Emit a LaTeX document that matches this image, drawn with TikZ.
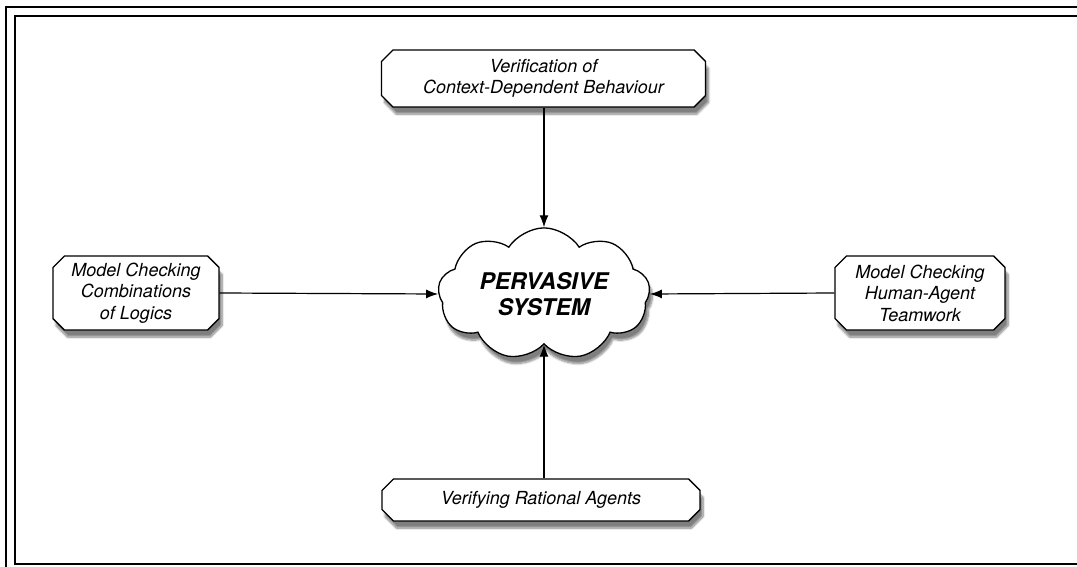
\documentclass[tikz,border=0pt]{standalone}
\usepackage{fontspec}
\setmainfont{TeX Gyre Heros}
\usetikzlibrary{shapes.misc,shapes.symbols,arrows.meta,shadows.blur}
\begin{document}
\begin{tikzpicture}[x=1pt,y=-1pt,
  topicbox/.style={chamfered rectangle, chamfered rectangle xsep=8pt,
    draw=black, line width=1.4pt, fill=white, align=center,
    inner sep=0pt, font=\fontsize{18}{21.5}\selectfont\itshape,
    blur shadow={shadow xshift=3pt, shadow yshift=-7pt, shadow blur steps=8, shadow opacity=50}},
  hub/.style={cloud, cloud puffs=9, cloud puff arc=115, aspect=1.75,
    draw=black, line width=1.3pt, fill=white, align=center, inner sep=0pt,
    minimum width=212pt, minimum height=122pt,
    font=\fontsize{23}{26}\selectfont\bfseries\itshape,
    blur shadow={shadow xshift=3pt, shadow yshift=-7pt, shadow blur steps=8, shadow opacity=50}},
  feed/.style={line width=1.2pt, -{Latex[length=12pt,width=9pt]}},
  frame/.style={line width=1.2pt, draw=black}]
\useasboundingbox (0,0) rectangle (1077,567);
% double frame, running off the right and bottom edges
\draw[frame] (1077,7) -- (6,7) -- (6,567);
\draw[frame] (1077,16) -- (15,16) -- (15,564) -- (1077,564);

\node[hub] (sys) at (544,294) {PERVASIVE\\SYSTEM};

\node[topicbox, minimum width=324pt, minimum height=57pt] (ctx) at (543.5,78.5)
  {Verification of\\Context-Dependent Behaviour};
\node[topicbox, minimum width=166pt, minimum height=74pt] (mcl) at (136,293)
  {Model Checking\\Combinations\\of Logics};
\node[topicbox, minimum width=170pt, minimum height=74pt] (mch) at (920,293)
  {Model Checking\\Human-Agent\\Teamwork};
\node[topicbox, minimum width=318pt, minimum height=42pt] (vra) at (541,500)
  {Verifying Rational Agents};

\draw[feed] (ctx.south -| sys.north) -- (sys.north);
\draw[feed] (mcl.east) -- (sys.west);
\draw[feed] (mch.west) -- (sys.east);
\draw[feed] (vra.north -| sys.south) -- (sys.south);
\end{tikzpicture}
\end{document}
